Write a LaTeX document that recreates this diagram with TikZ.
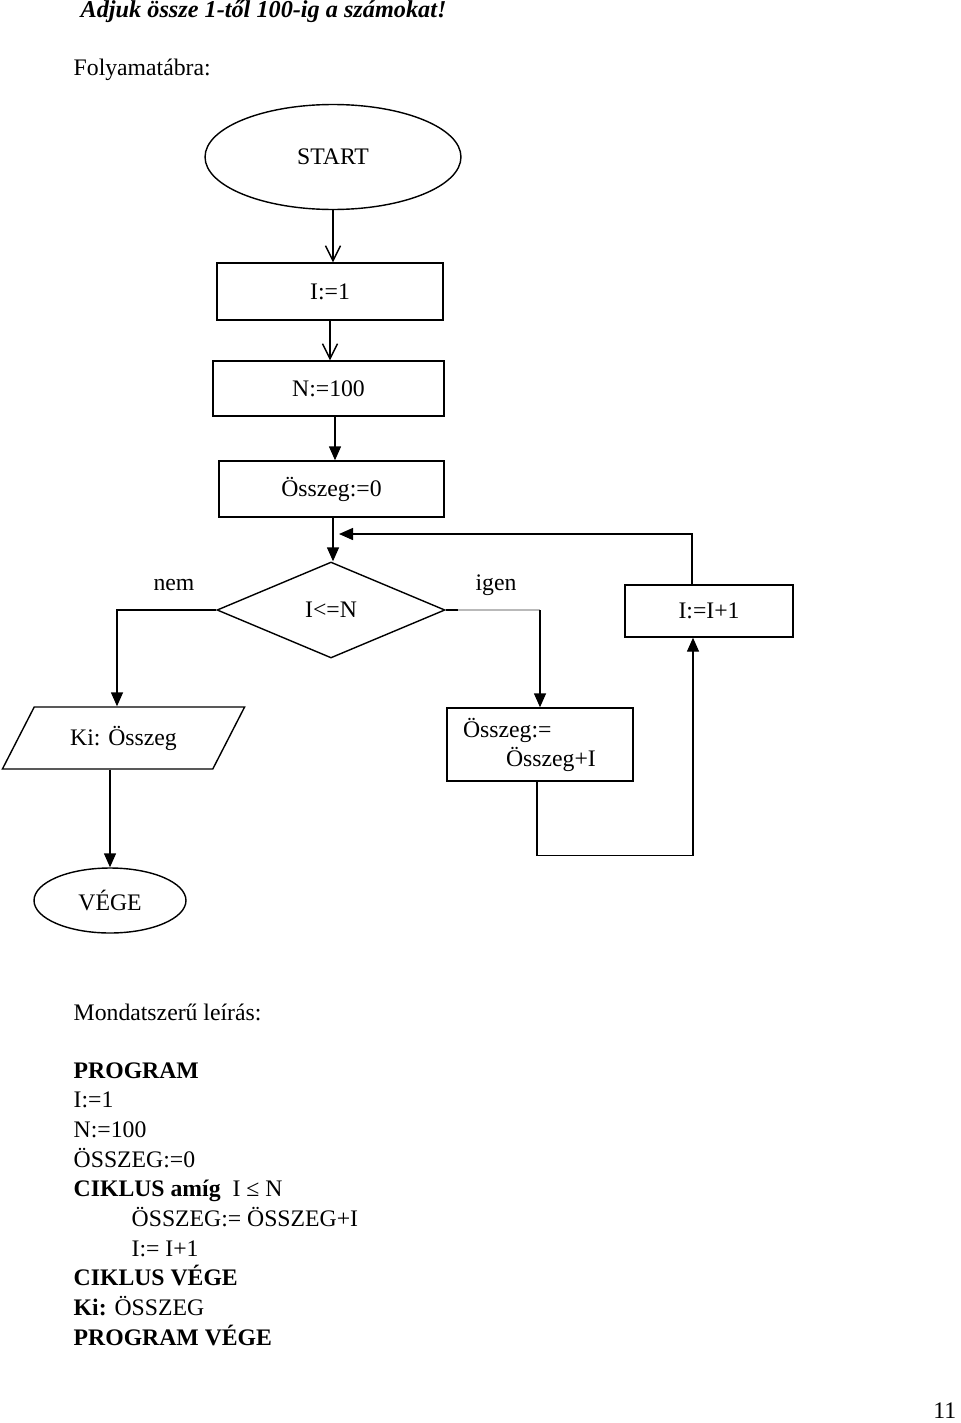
\documentclass[tikz,border=0pt]{standalone}
\usepackage{fontspec}
\setmainfont{Liberation Serif}
\usetikzlibrary{shapes.geometric,arrows.meta}

\begin{document}
\begin{tikzpicture}[x=0.02cm, y=-0.02cm, thick, font=\fontsize{13.5}{16.5}\selectfont,
    main/.style = {draw, rectangle, inner sep=0pt},
    term/.style = {draw, ellipse, inner sep=0pt},
    txt/.style = {anchor=base west, inner sep=0pt},
    arr/.style = {-{Triangle[length=0.28cm, width=0.24cm]}},
    openarr/.style = {-{Straight Barb[length=0.3cm, width=0.3cm]}}]
    \useasboundingbox (0,0) rectangle (960,1423);

    \node[txt, font=\fontsize{13.8}{16.5}\selectfont\bfseries\itshape] (t) at (80,17) {Adjuk össze 1-től 100-ig a számokat!};
    \node[txt] (f) at (73,75) {Folyamatábra:};

    \node[term, minimum width=5.12cm, minimum height=2.1cm] (1) at (333,157) {START};
    \node[main, minimum width=4.52cm, minimum height=1.14cm] (2) at (330,291.5) {I:=1};
    \node[main, minimum width=4.62cm, minimum height=1.1cm] (3) at (328.5,388.5) {N:=100};
    \node[main, minimum width=4.5cm, minimum height=1.12cm] (4) at (331.5,489) {Összeg:=0};
    \node[draw, diamond, aspect=2.375, inner sep=0pt, minimum width=4.56cm, minimum height=1.92cm] (5) at (331,610) {I<=N};
    \node[main, minimum width=3.36cm, minimum height=1.04cm] (6) at (709,611) {I:=I+1};
    \node[draw, trapezium, trapezium left angle=52, trapezium right angle=128, trapezium stretches=true,
          inner sep=0pt, minimum width=4.86cm, minimum height=1.24cm] (7) at (123.5,738) {Ki: Összeg};
    \node[main, minimum width=3.72cm, minimum height=1.46cm, text width=3.08cm, align=left] (8) at (540,744.5)
          {Összeg:=\\\hspace*{0.86cm}Összeg+I};
    \node[term, minimum width=3.04cm, minimum height=1.3cm] (9) at (110,900.5) {VÉGE};

    \node (nem) at (174,585) {nem};
    \node (igen) at (496,585) {igen};

    \draw[openarr] (1.south) -- (1.south |- 2.north);
    \draw[openarr] (2.south) -- (2.south |- 3.north);
    \draw[arr] ([xshift=0.13cm]3.south) -- ([xshift=0.13cm]3.south |- 4.north);
    \draw[arr] ([xshift=0.03cm]4.south) -- ([xshift=0.03cm]4.south |- 5.north);
    \coordinate (back) at (339,534);
    \draw[arr] ([xshift=-0.34cm]6.north) |- (back);
    \draw[arr] (5.west) -| ([xshift=-0.13cm]7.north);
    \draw (5.east) -- ++(12,0) coordinate (g);
    \draw[gray!55] (g) -- (g -| 8.north);
    \draw[arr] (g -| 8.north) -- (8.north);
    \draw[arr] (9.north |- 7.south) -- (9.north);
    \draw[arr] ([xshift=-0.06cm]8.south) -- ++(0,74) -| ([xshift=-0.32cm]6.south);

    \node[txt] (m) at (73,1020) {Mondatszerű leírás:};
    \foreach \t [count=\i from 0] in {\textbf{PROGRAM}, I:=1, N:=100, ÖSSZEG:=0,
        \textbf{CIKLUS amíg}\ \ I ≤ N, \hspace*{1.16cm}ÖSSZEG:= ÖSSZEG+I, \hspace*{1.16cm}I:= I+1,
        \textbf{CIKLUS VÉGE}, \textbf{Ki:} ÖSSZEG, \textbf{PROGRAM VÉGE}}
        \node[txt] (p\i) at (73,{1078+29.7*\i}) {\t};

    \node[anchor=base east, inner sep=0pt] (pg) at (957,1418) {11};
\end{tikzpicture}
\end{document}
